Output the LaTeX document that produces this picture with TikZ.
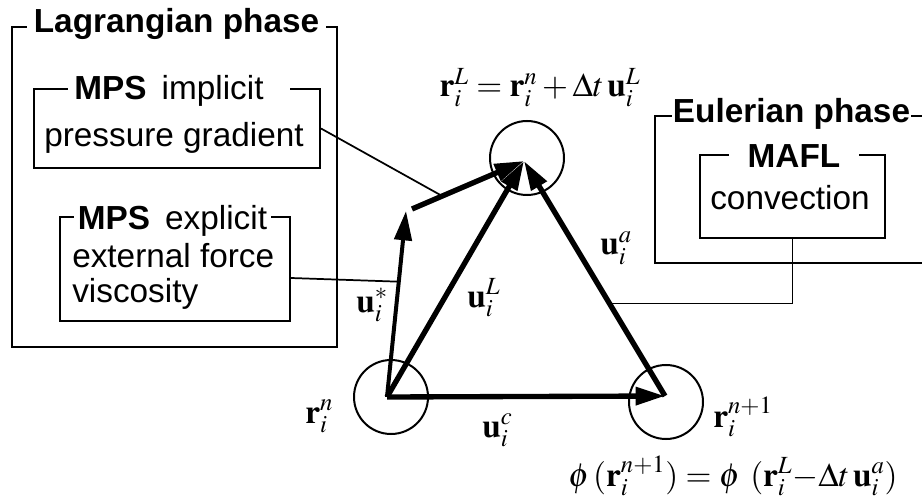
\documentclass[tikz,border=0pt]{standalone}
\usepackage{amsmath, amssymb}
\usepackage{mathptmx}
\usepackage{fontspec}
\newfontfamily\lsans{Liberation Sans}
\usepackage{tikz}
\usetikzlibrary{calc, arrows.meta}

\begin{document}
\begin{tikzpicture}[x=0.75pt, y=-0.75pt,
        panel/.style={draw, line width=1.5pt, inner sep=0pt},
        title/.style={fill=white, font=\lsans\fontsize{25}{30}\selectfont, inner xsep=5pt, inner ysep=0pt, anchor=base},
        txt/.style={font=\lsans\fontsize{25}{30}\selectfont, inner sep=0pt},
        cell/.style={draw, circle, line width=1.5pt, minimum size=55.5pt, inner sep=0pt},
        vec/.style={line width=4pt, -{Triangle[length=22pt, width=13pt]}},
        lbl/.style={font=\fontsize{25}{30}\selectfont, inner sep=0pt},
        wire/.style={line width=1.3pt}]
                \useasboundingbox (0,0) rectangle (922,499);
                \clip (0,0) rectangle (922,499);
                % boxes
                \node[panel, minimum width=243.75pt, minimum height=240pt] (lag) at (174.5,187) {};
                \node[panel, minimum width=214.5pt, minimum height=59.25pt] (imp) at (177,128.5) {};
                \node[panel, minimum width=172.5pt, minimum height=78pt] (exp) at (175,269) {};
                \node[panel, minimum width=258.75pt, minimum height=110.25pt] (eul) at (827.5,189.5) {};
                \node[panel, minimum width=138.75pt, minimum height=62.25pt] (mafl) at (792.5,196.5) {};
                \node[title] (lagt) at (176.5,33) {\textbf{Lagrangian phase}};
                \node[title] (impt) at (179,100) {\textbf{MPS}\hspace{0.45em}implicit\hspace*{0.6em}};
                \node[title, inner xsep=3pt] (expt) at (172.5,230) {\textbf{MPS}\hspace{0.45em}explicit};
                \node[title, inner xsep=1pt] (eult) at (791.5,123) {\textbf{Eulerian phase}};
                \node[title, inner xsep=14pt] (maflt) at (794,168) {\textbf{MAFL}};
                \node[txt, anchor=base] (pg) at (174,147) {pressure gradient};
                \node[txt, anchor=base west] (ef) at (72,268) {external force};
                \node[txt, anchor=base west] (vs) at (72,303) {viscosity};
                \node[txt, anchor=base] (cv) at (790,210) {convection};
                % particles
                \node[cell] (cL) at (527,158) {};
                \node[cell] (cn) at (391,397) {};
                \node[cell] (cn1) at (666,402) {};
                \coordinate (pn) at (387,397);
                \coordinate (pn1) at (665,396);
                \coordinate (pL) at (524,161);
                \coordinate (ps) at (406,211);
                \coordinate (pq) at (412,209);
                \draw[vec] (pn) -- (pn1);
                \draw[vec] (pn) -- (pL);
                \draw[vec] (pn1) -- (pL);
                \draw[vec, line width=3pt] (pn) -- (ps);
                \draw[vec] (pq) -- (pL);
                % connectors
                \coordinate (hs) at ($(pn)!0.62!(ps)$);
                \coordinate (hi) at ($(pq)!0.27!(pL)$);
                \coordinate (ha) at ($(pn1)!0.394!(pL)$);
                \draw[wire] ([yshift=-6.75pt]exp.east) -- (hs);
                \draw[wire] (imp.east) -- (hi);
                \draw[wire] (mafl.south) |- (ha);
                % labels
                \node[lbl, anchor=base] (fL) at (540,97) {$\mathbf{r}_i^L = \mathbf{r}_i^n + \Delta t\,\mathbf{u}_i^L$};
                \node[lbl, anchor=base] (fphi) at (733,486) {$\phi\,(\mathbf{r}_i^{n+1}) = \phi\ (\mathbf{r}_i^L{-}\Delta t\,\mathbf{u}_i^a)$};
                \node[lbl, anchor=base west] (lus) at (356,312) {$\mathbf{u}_i^*$};
                \node[lbl, anchor=base west] (luL) at (467,307) {$\mathbf{u}_i^L$};
                \node[lbl, anchor=base west] (luc) at (482,437) {$\mathbf{u}_i^c$};
                \node[lbl, anchor=base west] (lua) at (600,255) {$\mathbf{u}_i^a$};
                \node[lbl, anchor=base west] (lrn) at (305,423) {$\mathbf{r}_i^n$};
                \node[lbl, anchor=base west] (lrn1) at (713,427) {$\mathbf{r}_i^{n+1}$};
            \end{tikzpicture}
\end{document}
